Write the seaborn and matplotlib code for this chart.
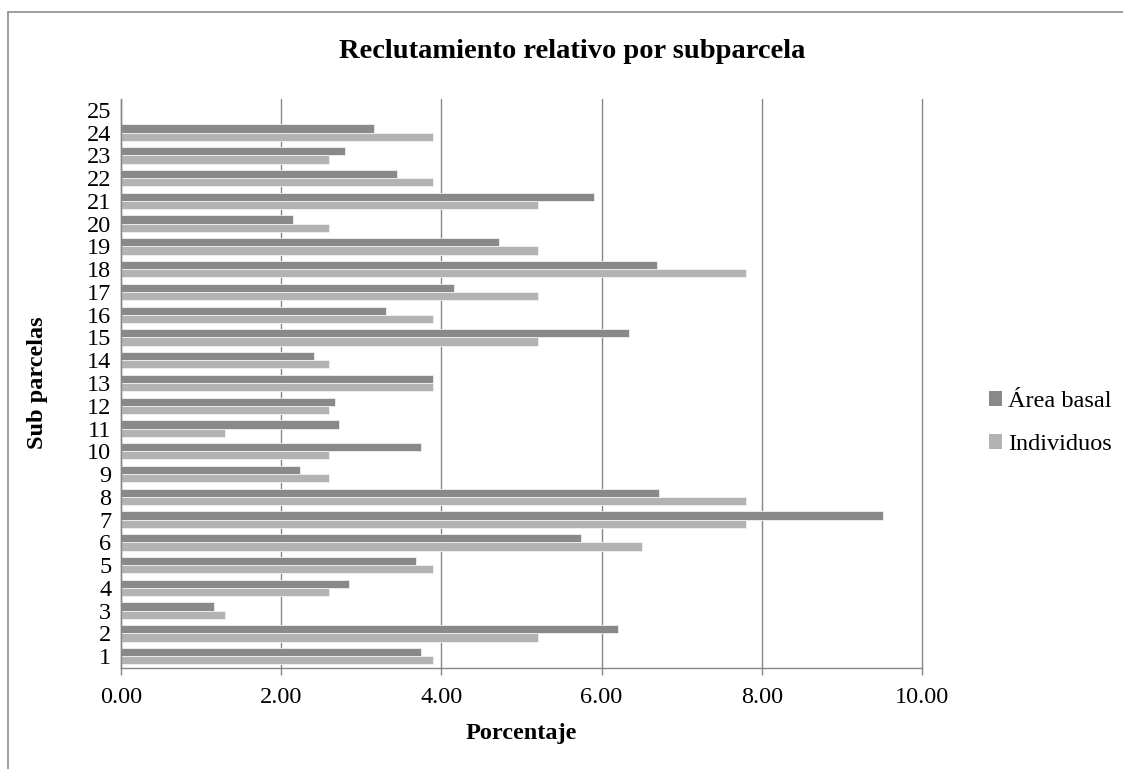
import numpy as np
import pandas as pd
import matplotlib
matplotlib.use("Agg")
import matplotlib.pyplot as plt
from matplotlib.lines import Line2D
from matplotlib.patches import Patch
import seaborn as sns

# Sub-plot numbers (25 has no recruitment recorded)
subparcelas = [str(i) for i in range(1, 26)]
area_basal = [3.74, 6.20, 1.16, 2.85, 3.68, 5.74, 9.51, 6.72, 2.23, 3.75,
              2.72, 2.67, 3.89, 2.41, 6.34, 3.31, 4.16, 6.69, 4.72, 2.15,
              5.91, 3.45, 2.80, 3.16, np.nan]
individuos = [3.90, 5.20, 1.30, 2.60, 3.90, 6.50, 7.80, 7.80, 2.60, 2.60,
              1.30, 2.60, 3.90, 2.60, 5.20, 3.90, 5.20, 7.80, 5.20, 2.60,
              5.20, 3.90, 2.60, 3.90, np.nan]
series = ["Área basal", "Individuos"]
colores = ["#898989", "#b3b3b3"]
x_ticks = [0, 2, 4, 6, 8, 10]

df = pd.DataFrame({
    "Sub parcelas": subparcelas * 2,
    "Porcentaje": area_basal + individuos,
    "Serie": [series[0]] * len(subparcelas) + [series[1]] * len(subparcelas),
})

sns.set_theme(style="white")
plt.rcParams["font.family"] = ["Liberation Serif", "DejaVu Serif"]
plt.rcParams["text.color"] = "black"
plt.rcParams["axes.labelcolor"] = "black"
plt.rcParams["xtick.color"] = "black"
plt.rcParams["ytick.color"] = "black"

fig = plt.figure(figsize=(11.23, 7.69), dpi=100)
ax = fig.add_axes([121 / 1123, 1 - 667.5 / 769, (922 - 121) / 1123, (667.5 - 98.5) / 769])

sns.barplot(
    data=df, y="Sub parcelas", x="Porcentaje", hue="Serie",
    order=subparcelas[::-1], hue_order=series, palette=colores,
    orient="h", width=0.72, dodge=True, errorbar=None,
    edgecolor="#f0f0f0", linewidth=0.6, legend=False, ax=ax,
)

ax.set_xlim(0, 10)
ax.set_xticks(x_ticks)
ax.set_xticklabels([f"{v:.2f}" for v in x_ticks], fontsize=17.5)
ax.tick_params(axis="x", direction="out", length=5, width=1, color="#868686",
               labelcolor="black", pad=9, bottom=True)
ax.tick_params(axis="y", length=0, pad=7, labelcolor="black")
for lab in ax.get_yticklabels():
    lab.set_fontsize(17.5)

ax.grid(axis="x", color="#868686", linewidth=1)
for gl in ax.get_xgridlines():
    gl.set_clip_on(False)
ax.set_axisbelow(True)
for side in ["top", "right"]:
    ax.spines[side].set_visible(False)
for side in ["left", "bottom"]:
    ax.spines[side].set_color("#868686")
    ax.spines[side].set_linewidth(1)

ax.set_xlabel("Porcentaje", fontsize=17.5, fontweight="bold", labelpad=11)
ax.set_ylabel("Sub parcelas", fontsize=17.5, fontweight="bold", labelpad=28)

fig.text(572 / 1123, 1 - 52 / 769, "Reclutamiento relativo por subparcela",
         ha="center", va="center", fontsize=20.5, fontweight="bold")

handles = [Patch(facecolor=c, edgecolor="none") for c in colores]
fig.legend(handles, series, loc="center left",
           bbox_to_anchor=(967 / 1123, 1 - 423 / 769), frameon=False,
           fontsize=17.5, handlelength=0.55, handleheight=0.55,
           handletextpad=0.25, labelspacing=0.9)

# Chart-area frame (top and left edges)
fig.add_artist(Line2D([8 / 1123, 1.0], [1 - 12 / 769, 1 - 12 / 769],
                      transform=fig.transFigure, color="#8c8c8c", linewidth=1.2))
fig.add_artist(Line2D([8 / 1123, 8 / 1123], [0.0, 1 - 12 / 769],
                      transform=fig.transFigure, color="#8c8c8c", linewidth=1.2))

fig.savefig("out.png", dpi=100, facecolor="white")
